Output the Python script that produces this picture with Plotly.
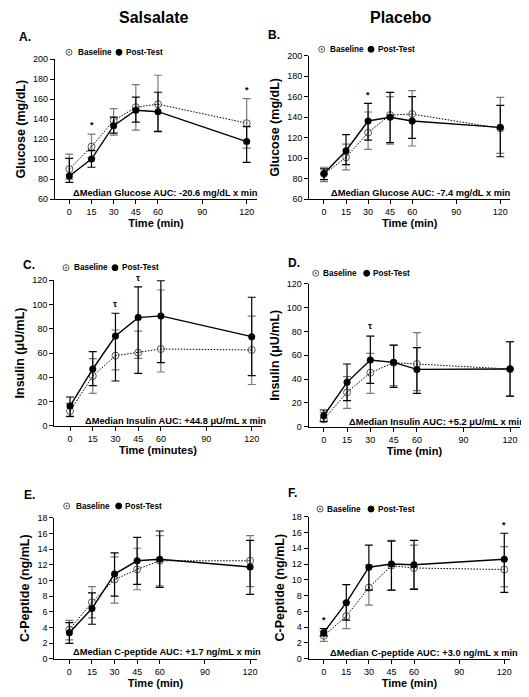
import plotly.graph_objects as go

# The page body has an 8px default margin; the figure is laid out in reference-pixel
# coordinates and shifted by that margin.
PAGE_W, PAGE_H = 529, 697
OFF = 8
W, H = PAGE_W - OFF, PAGE_H - OFF

t = [0, 15, 30, 45, 60, 120]
xticks = [0, 15, 30, 45, 60, 90, 120]

# ---- data ----
glu_sal_base = [90, 112.5, 138.5, 152, 155, 136]
glu_sal_base_hi = [105, 125, 150.5, 174.6, 184, 160.5]
glu_sal_base_lo = [80, 101, 124, 129, 128, 111]
glu_sal_post = [83, 100, 133.5, 149, 147.5, 117.5]
glu_sal_post_hi = [100.8, 108.5, 142, 162, 167, 132.5]
glu_sal_post_lo = [76.7, 91.8, 126, 137, 127.5, 96.8]

glu_pla_base = [84.4, 100.7, 124.8, 142, 143, 129]
glu_pla_base_hi = [91, 113.7, 145, 160, 165.8, 159.3]
glu_pla_base_lo = [77, 88.5, 108.5, 113.7, 111.8, 104.6]
glu_pla_post = [85, 107.2, 136.2, 139.8, 136.2, 130]
glu_pla_post_hi = [89.5, 122.8, 153.4, 164.2, 160, 151.5]
glu_pla_post_lo = [79, 93.5, 117.6, 115, 119.2, 101.3]

ins_sal_base = [12.1, 41, 57.8, 60.3, 63.3, 62.5]
ins_sal_base_hi = [18.4, 55.3, 79, 78, 112, 90.5]
ins_sal_base_lo = [7.4, 26.7, 46, 55.6, 44.3, 34]
ins_sal_post = [16.2, 46.8, 74, 89.2, 90.6, 73.5]
ins_sal_post_hi = [23.7, 61.1, 92.8, 114.5, 119.7, 106]
ins_sal_post_lo = [7.7, 33, 36.9, 43.2, 52, 41.3]

ins_pla_base = [6.2, 28.8, 45.3, 53.7, 52.6, 48.4]
ins_pla_base_hi = [12, 42, 61.5, 68.3, 78.9, 71.3]
ins_pla_base_lo = [4.5, 15.4, 28, 34.4, 30.2, 25.7]
ins_pla_post = [9.2, 37.2, 56, 54, 48.1, 48.4]
ins_pla_post_hi = [14, 52.6, 76, 68.5, 66.3, 71.3]
ins_pla_post_lo = [4.2, 21.8, 36.4, 33, 28, 25.7]

cp_sal_base = [3.7, 7.2, 10.1, 11.4, 12.5, 12.5]
cp_sal_base_hi = [4.9, 9.2, 13.0, 14.1, 15.7, 15.7]
cp_sal_base_lo = [2.4, 5.2, 7.1, 8.8, 9.3, 9.2]
cp_sal_post = [3.3, 6.4, 10.8, 12.5, 12.7, 11.7]
cp_sal_post_hi = [4.6, 8.4, 13.5, 15.5, 16.3, 15.1]
cp_sal_post_lo = [1.96, 4.4, 8.0, 9.5, 9.1, 8.2]

cp_pla_base = [2.9, 5.4, 9.0, 11.8, 11.5, 11.3]
cp_pla_base_hi = [3.5, 7.2, 11.9, 15.0, 14.4, 14.2]
cp_pla_base_lo = [2.2, 3.8, 6.8, 8.7, 8.9, 9.1]
cp_pla_post = [3.3, 7.1, 11.6, 12.0, 11.9, 12.6]
cp_pla_post_hi = [3.8, 9.4, 14.4, 14.9, 15.0, 15.9]
cp_pla_post_lo = [2.9, 4.9, 8.7, 8.7, 8.8, 8.4]

legend_labels = ["Baseline", "Post-Test"]

FONT = "Liberation Sans"

def px_x(p):
    return (p - OFF) / W

def px_y(p):
    return 1 - (p - OFF) / H

panels = [
    dict(key="A", xd=(55, 257), yd=(59.3, 199), xr=(-9.7, 127), yr=(60, 200), dt=20,
         ytitle="Glucose (mg/dL)", xtitle="Time (min)",
         base=(glu_sal_base, glu_sal_base_hi, glu_sal_base_lo),
         post=(glu_sal_post, glu_sal_post_hi, glu_sal_post_lo),
         auc="\u0394Median Glucose AUC: -20.6 mg/dL x min", aucpos=(165, 193),
         letter=(17, 37), leg=(69, 75.5, 119, 123.5, 52.3),
         marks=[(15, 127, "*"), (120, 162, "*")]),
    dict(key="B", xd=(309.3, 510), yd=(55.7, 199), xr=(-10, 126.6), yr=(60, 200), dt=20,
         ytitle="Glucose (mg/dL)", xtitle="Time (min)",
         base=(glu_pla_base, glu_pla_base_hi, glu_pla_base_lo),
         post=(glu_pla_post, glu_pla_post_hi, glu_pla_post_lo),
         auc="\u0394Median Glucose AUC: -7.4 mg/dL x min", aucpos=(420.7, 193.3),
         letter=(266, 35), leg=(321.7, 327.5, 371, 376, 49.3),
         marks=[(30, 155, "*")]),
    dict(key="C", xd=(54.3, 261.7), yd=(280.3, 425.7), xr=(-10.4, 126.6), yr=(0, 120), dt=20,
         ytitle="Insulin (\u03bcU/mL)", xtitle="Time (minutes)",
         base=(ins_sal_base, ins_sal_base_hi, ins_sal_base_lo),
         post=(ins_sal_post, ins_sal_post_hi, ins_sal_post_lo),
         auc="\u0394Median Insulin AUC: +44.8 \u03bcU/mL x min", aucpos=(175.7, 420.7),
         letter=(21, 265), leg=(66, 72.2, 115, 119.5, 267.7),
         marks=[(30, 95, "\u03c4"), (45, 116, "\u03c4"), (60, 122, "\u03c4")]),
    dict(key="D", xd=(308.7, 520), yd=(283.7, 426.7), xr=(-9.7, 126.4), yr=(0, 120), dt=20,
         ytitle="Insulin (\u03bcU/mL)", xtitle="Time (min)",
         base=(ins_pla_base, ins_pla_base_hi, ins_pla_base_lo),
         post=(ins_pla_post, ins_pla_post_hi, ins_pla_post_lo),
         auc="\u0394Median Insulin AUC: +5.2 \u03bcU/mL x min", aucpos=(436.7, 421.7),
         letter=(286, 263), leg=(315.7, 321, 366.7, 371.3, 273.3),
         marks=[(30, 79, "\u03c4")]),
    dict(key="E", xd=(54.3, 256.7), yd=(517.7, 658.7), xr=(-10, 124.4), yr=(0, 18), dt=2,
         ytitle="C-Peptide (ng/mL)", xtitle="Time (min)",
         base=(cp_sal_base, cp_sal_base_hi, cp_sal_base_lo),
         post=(cp_sal_post, cp_sal_post_hi, cp_sal_post_lo),
         auc="\u0394Median C-peptide AUC: +1.7 ng/mL x min", aucpos=(167, 652.3),
         letter=(22, 495), leg=(66.7, 73.5, 118.7, 123.3, 506),
         marks=[]),
    dict(key="F", xd=(308.7, 510), yd=(516.7, 658.7), xr=(-10, 123.8), yr=(0, 18), dt=2,
         ytitle="C-Peptide (ng/mL)", xtitle="Time (min)",
         base=(cp_pla_base, cp_pla_base_hi, cp_pla_base_lo),
         post=(cp_pla_post, cp_pla_post_hi, cp_pla_post_lo),
         auc="\u0394Median C-peptide AUC: +3.0 ng/mL x min", aucpos=(423.7, 652.7),
         letter=(286, 493), leg=(320, 325, 371, 376, 509),
         marks=[(0, 4.0, "*"), (120, 16.1, "*")]),
]

fig = go.Figure()
annotations = []
shapes = []
layout = {}

for i, p in enumerate(panels):
    n = "" if i == 0 else str(i + 1)
    xa, ya = "x" + n, "y" + n
    bv, bh, bl = p["base"]
    pv, ph, pl = p["post"]
    fig.add_trace(go.Scatter(
        x=t, y=bv, xaxis=xa, yaxis=ya, mode="lines+markers", name=legend_labels[0],
        line=dict(color="black", width=1, dash="1.5px,1.5px"),
        marker=dict(symbol="circle-open-dot", size=7, color="#555555", line=dict(width=1)),
        error_y=dict(type="data", symmetric=False,
                     array=[h - v for h, v in zip(bh, bv)],
                     arrayminus=[v - l for v, l in zip(bv, bl)],
                     color="#7a7a7a", thickness=1.2, width=4),
        showlegend=False, cliponaxis=False))
    fig.add_trace(go.Scatter(
        x=t, y=pv, xaxis=xa, yaxis=ya, mode="lines+markers", name=legend_labels[1],
        line=dict(color="black", width=1.4),
        marker=dict(symbol="circle", size=7, color="black"),
        error_y=dict(type="data", symmetric=False,
                     array=[h - v for h, v in zip(ph, pv)],
                     arrayminus=[v - l for v, l in zip(pv, pl)],
                     color="black", thickness=1.2, width=4),
        showlegend=False, cliponaxis=False))

    # legend: symbols as shapes, labels as text
    c1, t1, c2, t2, ly = p["leg"]
    yy = px_y(ly)
    shapes.append(dict(type="circle", xref="paper", yref="paper", xsizemode="pixel",
                       ysizemode="pixel", xanchor=px_x(c1), yanchor=yy,
                       x0=-3, x1=3, y0=-3, y1=3, line=dict(color="#555555", width=1),
                       fillcolor="white"))
    shapes.append(dict(type="circle", xref="paper", yref="paper", xsizemode="pixel",
                       ysizemode="pixel", xanchor=px_x(c1), yanchor=yy,
                       x0=-0.8, x1=0.8, y0=-0.8, y1=0.8, line=dict(color="#555555", width=0.5),
                       fillcolor="#555555"))
    shapes.append(dict(type="circle", xref="paper", yref="paper", xsizemode="pixel",
                       ysizemode="pixel", xanchor=px_x(c2), yanchor=yy,
                       x0=-3, x1=3, y0=-3, y1=3, line=dict(color="black", width=1),
                       fillcolor="black"))
    for tx, lab in ((t1, legend_labels[0]), (t2, legend_labels[1])):
        annotations.append(dict(text="<b>%s</b>" % lab, x=px_x(tx), y=yy, xref="paper",
                                yref="paper", xanchor="left", yanchor="middle",
                                showarrow=False, font=dict(family=FONT, size=8.2, color="black")))

    axis_common = dict(showline=True, linecolor="black", linewidth=1.2, ticks="outside",
                       ticklen=4, tickwidth=1.2, tickcolor="black", showgrid=False,
                       zeroline=False, automargin=False,
                       tickfont=dict(family=FONT, size=9, color="black"))
    layout["xaxis" + n] = dict(axis_common, domain=[px_x(p["xd"][0]), px_x(p["xd"][1])],
                               range=list(p["xr"]), tickvals=xticks, anchor=ya,
                               title=dict(text="<b>%s</b>" % p["xtitle"], standoff=2,
                                          font=dict(family=FONT, size=11, color="black")))
    dt = p["dt"]
    yt = [p["yr"][0] + k * dt for k in range(int((p["yr"][1] - p["yr"][0]) / dt) + 1)]
    layout["yaxis" + n] = dict(axis_common, domain=[px_y(p["yd"][1]), px_y(p["yd"][0])],
                               range=list(p["yr"]), tickvals=yt, anchor=xa,
                               title=dict(text="<b>%s</b>" % p["ytitle"], standoff=4,
                                          font=dict(family=FONT, size=12.5, color="black")))
    annotations.append(dict(text="<b>%s</b>" % p["auc"], x=px_x(p["aucpos"][0]),
                            y=px_y(p["aucpos"][1]), xref="paper", yref="paper",
                            xanchor="center", yanchor="middle", showarrow=False,
                            font=dict(family=FONT, size=9.3, color="black")))
    annotations.append(dict(text="<b>%s.</b>" % p["key"], x=px_x(p["letter"][0]),
                            y=px_y(p["letter"][1]), xref="paper", yref="paper",
                            xanchor="left", yanchor="middle", showarrow=False,
                            font=dict(family=FONT, size=12, color="black")))
    for (mx, my, mt) in p["marks"]:
        annotations.append(dict(text="<b>%s</b>" % mt, x=mx, y=my, xref=xa, yref=ya,
                                xanchor="center", yanchor="bottom", showarrow=False,
                                font=dict(family=FONT, size=9, color="black")))

annotations.append(dict(text="<b>Salsalate</b>", x=px_x(153), y=px_y(17), xref="paper", yref="paper",
                        xanchor="center", yanchor="middle", showarrow=False,
                        font=dict(family=FONT, size=16, color="black")))
annotations.append(dict(text="<b>Placebo</b>", x=px_x(401), y=px_y(17), xref="paper", yref="paper",
                        xanchor="center", yanchor="middle", showarrow=False,
                        font=dict(family=FONT, size=16, color="black")))

fig.update_layout(width=W, height=H, margin=dict(l=0, r=0, t=0, b=0),
                  paper_bgcolor="white", plot_bgcolor="white", showlegend=False,
                  font=dict(family=FONT, color="black"),
                  annotations=annotations, shapes=shapes, **layout)

fig.write_html("out.html")
